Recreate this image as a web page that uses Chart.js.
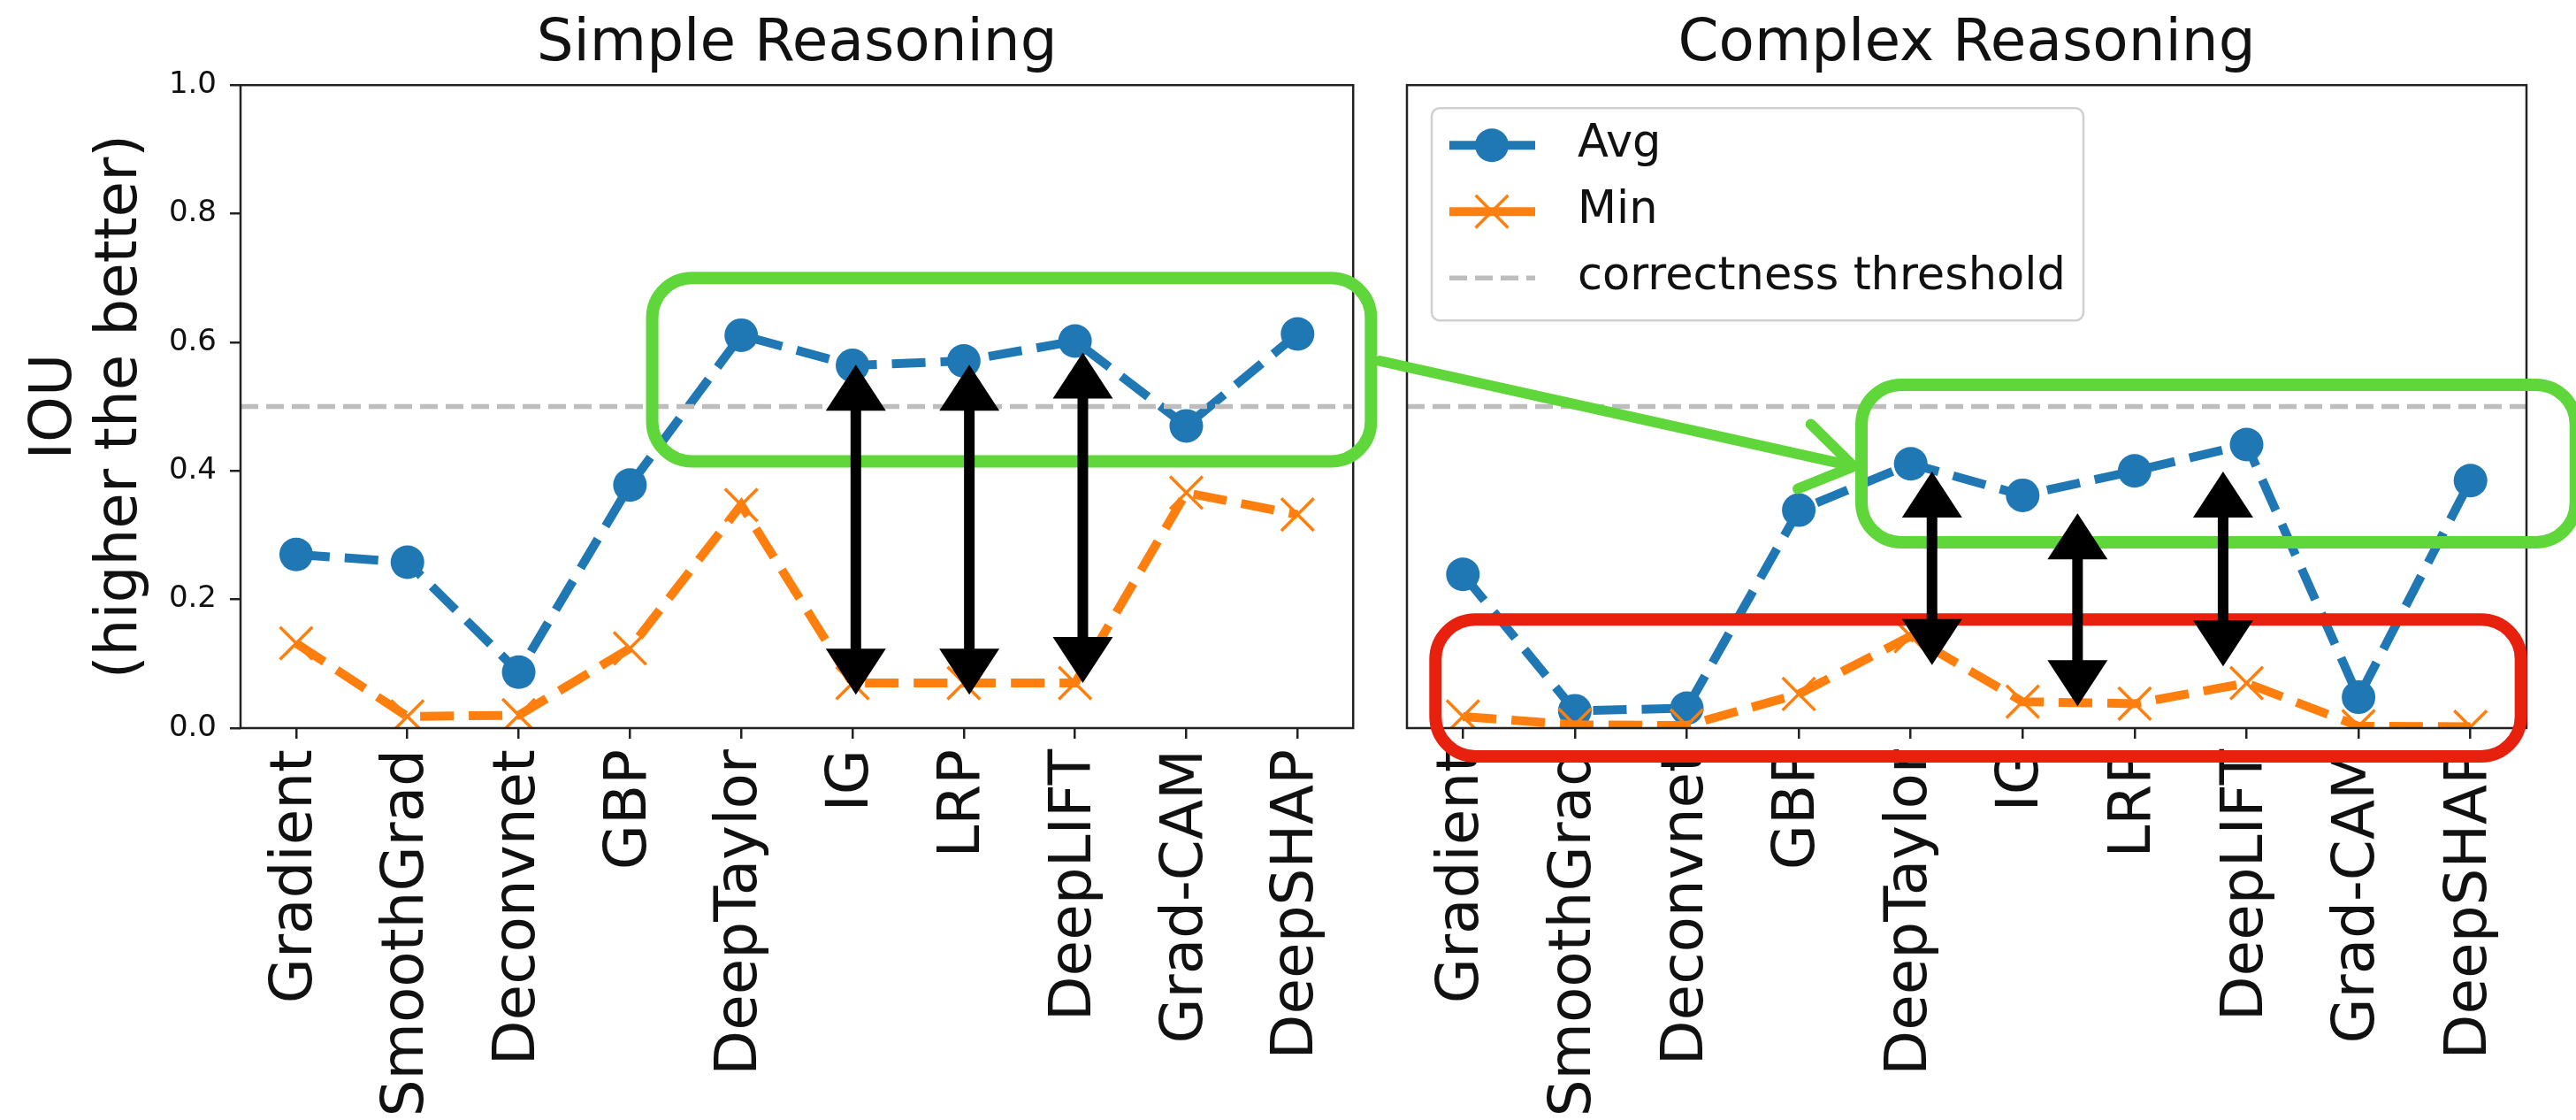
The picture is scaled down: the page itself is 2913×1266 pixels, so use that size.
<!DOCTYPE html>
<html>
<head>
<meta charset="utf-8">
<script src="https://cdn.jsdelivr.net/npm/chart.js@4.4.1/dist/chart.umd.min.js"></script>
<style>
  html, body { margin: 0; padding: 0; background: #fff; }
  #wrap { position: relative; width: 2913px; height: 1266px; overflow: hidden; }
  canvas { position: absolute; top: 0; }
  #simpleChart { left: 0; }
  #complexChart { left: 1560px; }
  #marks { left: 0; pointer-events: none; }
</style>
</head>
<body>
<div id="wrap">
  <canvas id="simpleChart" width="1560" height="1266"></canvas>
  <canvas id="complexChart" width="1353" height="1266"></canvas>
  <canvas id="marks" width="2913" height="1266"></canvas>
</div>
<script>
// data
const methods = ['Gradient', 'SmoothGrad', 'Deconvnet', 'GBP', 'DeepTaylor', 'IG', 'LRP', 'DeepLIFT', 'Grad-CAM', 'DeepSHAP'];
const simpleAvg = [0.270, 0.258, 0.087, 0.378, 0.611, 0.564, 0.571, 0.602, 0.470, 0.613];
const simpleMin = [0.132, 0.018, 0.020, 0.124, 0.347, 0.070, 0.070, 0.070, 0.366, 0.332];
const complexAvg = [0.239, 0.027, 0.031, 0.339, 0.411, 0.362, 0.400, 0.441, 0.048, 0.385];
const complexMin = [0.018, 0.005, 0.004, 0.053, 0.143, 0.041, 0.038, 0.070, 0.003, 0.002];
const yTicks = [0.0, 0.2, 0.4, 0.6, 0.8, 1.0];
const threshold = 0.5;
const panelTitles = ['Simple Reasoning', 'Complex Reasoning'];
const yTitle = ['IOU', '(higher the better)'];

// hand-drawn highlights, in each panel's data space (category index, IOU)
const boxNotes = [
    { panel: 0, x: [3.2, 9.66], y: [0.415, 0.70], color: 'green' },
    { panel: 1, x: [3.56, 9.94], y: [0.289, 0.534], color: 'green' },
    { panel: 1, x: [-0.245, 9.45], y: [-0.044, 0.169], color: 'red' }
];
const arrowNotes = [
    { panel: 0, x: 5.03, y: [0.052, 0.565] },
    { panel: 0, x: 6.05, y: [0.052, 0.565] },
    { panel: 0, x: 7.07, y: [0.070, 0.584] },
    { panel: 1, x: 4.19, y: [0.098, 0.399] },
    { panel: 1, x: 5.49, y: [0.034, 0.334] },
    { panel: 1, x: 6.79, y: [0.096, 0.399] }
];
const linkNote = { from: [0, 9.74, 0.571], to: [1, 3.49, 0.407] };

const BLUE = '#1f77b4';
const ORANGE = '#ff7f0e';
const GRAY = '#bdbdbd';
const INK = '#111111';
const NOTE_COLORS = { green: '#5fd63a', red: '#e8200e' };

Chart.defaults.font.family = '"DejaVu Sans", sans-serif';
Chart.defaults.color = INK;

function roundRectPath(ctx, x, y, w, h, r) {
    ctx.beginPath();
    ctx.moveTo(x + r, y);
    ctx.lineTo(x + w - r, y);
    ctx.arcTo(x + w, y, x + w, y + r, r);
    ctx.lineTo(x + w, y + h - r);
    ctx.arcTo(x + w, y + h, x + w - r, y + h, r);
    ctx.lineTo(x + r, y + h);
    ctx.arcTo(x, y + h, x, y + h - r, r);
    ctx.lineTo(x, y + r);
    ctx.arcTo(x, y, x + r, y, r);
    ctx.closePath();
}

// threshold line across the whole axes
const thresholdPlugin = {
    id: 'thresholdLine',
    afterDatasetsDraw(chart) {
        const { ctx, chartArea } = chart;
        const y = chart.scales.y.getPixelForValue(threshold);
        ctx.save();
        ctx.strokeStyle = GRAY;
        ctx.lineWidth = 5.5;
        ctx.setLineDash([20, 9]);
        ctx.beginPath();
        ctx.moveTo(chartArea.left, y);
        ctx.lineTo(chartArea.right, y);
        ctx.stroke();
        ctx.restore();
    }
};

// matplotlib-style box around the axes
const framePlugin = {
    id: 'frame',
    afterDraw(chart) {
        const { ctx, chartArea } = chart;
        ctx.save();
        ctx.strokeStyle = '#222';
        ctx.lineWidth = 2.5;
        ctx.strokeRect(chartArea.left, chartArea.top, chartArea.right - chartArea.left, chartArea.bottom - chartArea.top);
        ctx.restore();
    }
};

// legend drawn inside the right axes, upper left
const innerLegendPlugin = {
    id: 'innerLegend',
    afterDraw(chart) {
        if (!chart.options.plugins.innerLegend || !chart.options.plugins.innerLegend.show) return;
        const { ctx, chartArea } = chart;
        const bx = chartArea.left + 28, by = chartArea.top + 26, bw = 737, bh = 240;
        ctx.save();
        roundRectPath(ctx, bx, by, bw, bh, 9);
        ctx.fillStyle = 'rgba(255,255,255,0.8)';
        ctx.fill();
        ctx.strokeStyle = '#d0d0d0';
        ctx.lineWidth = 2.5;
        ctx.stroke();

        const rows = chart.data.datasets.map(ds => ds);
        const sx0 = bx + 20, sx1 = bx + 117, mx = bx + 68, tx = bx + 165;
        ctx.font = '51px "DejaVu Sans"';
        ctx.textBaseline = 'middle';
        ctx.textAlign = 'left';
        rows.forEach((ds, i) => {
            const y = by + 42 + i * 75;
            ctx.strokeStyle = ds.borderColor;
            ctx.lineWidth = ds.borderWidth;
            ctx.setLineDash([]);
            ctx.beginPath();
            ctx.moveTo(sx0, y);
            ctx.lineTo(sx1, y);
            ctx.stroke();
            if (ds.pointStyle === 'circle') {
                ctx.fillStyle = ds.pointBackgroundColor;
                ctx.beginPath();
                ctx.arc(mx, y, ds.pointRadius, 0, Math.PI * 2);
                ctx.fill();
            } else {
                const d = ds.pointRadius * Math.SQRT1_2;
                ctx.lineWidth = ds.pointBorderWidth;
                ctx.beginPath();
                ctx.moveTo(mx - d, y - d); ctx.lineTo(mx + d, y + d);
                ctx.moveTo(mx - d, y + d); ctx.lineTo(mx + d, y - d);
                ctx.stroke();
            }
            ctx.fillStyle = INK;
            ctx.fillText(ds.label, tx, y);
        });
        const ty = by + 42 + rows.length * 75;
        ctx.strokeStyle = GRAY;
        ctx.lineWidth = 5.5;
        ctx.setLineDash([20, 9]);
        ctx.beginPath();
        ctx.moveTo(sx0, ty);
        ctx.lineTo(sx1, ty);
        ctx.stroke();
        ctx.fillStyle = INK;
        ctx.fillText('correctness threshold', tx, ty);
        ctx.restore();
    }
};

function makeDatasets(avg, min) {
    return [
        {
            label: 'Avg', data: avg, order: 1,
            borderColor: BLUE, backgroundColor: BLUE, borderWidth: 10, borderDash: [38, 17],
            pointStyle: 'circle', pointRadius: 19, pointBorderWidth: 0, pointBackgroundColor: BLUE,
            tension: 0, clip: 0
        },
        {
            label: 'Min', data: min, order: 0,
            borderColor: ORANGE, backgroundColor: ORANGE, borderWidth: 10, borderDash: [38, 17],
            pointStyle: 'crossRot', pointRadius: 26, pointBorderWidth: 3.5, pointBorderColor: ORANGE,
            tension: 0, clip: 0
        }
    ];
}

function makeChart(canvasId, title, avg, min, isLeft) {
    const ctx = document.getElementById(canvasId).getContext('2d');
    return new Chart(ctx, {
        type: 'line',
        data: { labels: methods, datasets: makeDatasets(avg, min) },
        options: {
            responsive: false,
            animation: false,
            devicePixelRatio: 1,
            layout: { padding: { left: 0, right: isLeft ? 20 : 56, top: 0, bottom: 0 } },
            plugins: {
                legend: { display: false },
                tooltip: { enabled: false },
                innerLegend: { show: !isLeft },
                title: {
                    display: true,
                    text: title,
                    fullSize: false,
                    color: INK,
                    font: { size: 66, weight: 'normal', lineHeight: 1.2 },
                    padding: { top: 11, bottom: 6 }
                }
            },
            scales: {
                x: {
                    type: 'category',
                    offset: true,
                    border: { display: false },
                    grid: { drawOnChartArea: false, drawTicks: true, tickLength: 12, offset: false, color: '#222', lineWidth: 2.5 },
                    ticks: {
                        autoSkip: false, maxRotation: 90, minRotation: 90, padding: 12,
                        color: INK, font: { size: 66 }
                    },
                    afterFit: s => { s.height = 443; }
                },
                y: {
                    min: 0,
                    max: 1,
                    border: { display: false },
                    grid: { drawOnChartArea: false, drawTicks: isLeft, tickLength: 12, color: '#222', lineWidth: 2.5 },
                    ticks: {
                        display: isLeft, padding: 15, color: INK, font: { size: 34 },
                        callback: v => Number(v).toFixed(1)
                    },
                    afterBuildTicks: s => { s.ticks = yTicks.map(v => ({ value: v })); },
                    title: {
                        display: isLeft,
                        text: yTitle,
                        color: INK,
                        font: { size: 66, lineHeight: 1.12 },
                        padding: { top: 26, bottom: 0 }
                    },
                    afterFit: s => { s.width = isLeft ? 272 : 31; }
                }
            }
        },
        plugins: [thresholdPlugin, framePlugin, innerLegendPlugin]
    });
}

const charts = [
    makeChart('simpleChart', panelTitles[0], simpleAvg, simpleMin, true),
    makeChart('complexChart', panelTitles[1], complexAvg, complexMin, false)
];
const offsets = [0, 1560];

function toPage(panel, xv, yv) {
    const c = charts[panel];
    return [offsets[panel] + c.scales.x.getPixelForValue(xv), c.scales.y.getPixelForValue(yv)];
}

function drawNotes() {
    const ctx = document.getElementById('marks').getContext('2d');
    ctx.lineJoin = 'round';
    ctx.lineCap = 'round';

    boxNotes.forEach(b => {
        const [x0, y0] = toPage(b.panel, b.x[0], b.y[1]);
        const [x1, y1] = toPage(b.panel, b.x[1], b.y[0]);
        roundRectPath(ctx, x0, y0, x1 - x0, y1 - y0, 45);
        ctx.strokeStyle = NOTE_COLORS[b.color];
        ctx.lineWidth = 14;
        ctx.stroke();
    });

    // green link arrow between the two panels
    const [ax, ay] = toPage(linkNote.from[0], linkNote.from[1], linkNote.from[2]);
    const [bx, by] = toPage(linkNote.to[0], linkNote.to[1], linkNote.to[2]);
    const ang = Math.atan2(by - ay, bx - ax);
    ctx.strokeStyle = NOTE_COLORS.green;
    ctx.lineWidth = 12;
    ctx.beginPath();
    ctx.moveTo(ax, ay);
    ctx.lineTo(bx, by);
    [0.56, -0.6].forEach(d => {
        ctx.moveTo(bx, by);
        ctx.lineTo(bx - 68 * Math.cos(ang + d), by - 68 * Math.sin(ang + d));
    });
    ctx.stroke();

    // black double-headed arrows
    arrowNotes.forEach(a => {
        const [x, yb] = toPage(a.panel, a.x, a.y[0]);
        const [, yt] = toPage(a.panel, a.x, a.y[1]);
        const headL = 52, headW = 34;
        ctx.fillStyle = '#000';
        ctx.strokeStyle = '#000';
        ctx.lineWidth = 12;
        ctx.lineCap = 'butt';
        ctx.beginPath();
        ctx.moveTo(x, yt + headL - 4);
        ctx.lineTo(x, yb - headL + 4);
        ctx.stroke();
        ctx.beginPath();
        ctx.moveTo(x, yt);
        ctx.lineTo(x - headW, yt + headL);
        ctx.lineTo(x + headW, yt + headL);
        ctx.closePath();
        ctx.moveTo(x, yb);
        ctx.lineTo(x - headW, yb - headL);
        ctx.lineTo(x + headW, yb - headL);
        ctx.closePath();
        ctx.fill();
    });
}

drawNotes();
</script>
</body>
</html>
